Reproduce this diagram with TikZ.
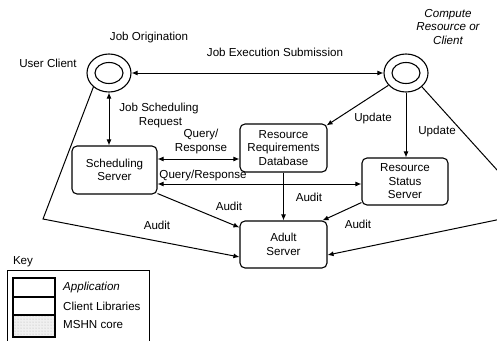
\documentclass[tikz,border=0pt]{standalone}
\usepackage{fontspec}
\setmainfont{Liberation Sans}
\usetikzlibrary{arrows.meta,shapes.geometric,patterns}
\begin{document}
\begin{tikzpicture}[x=1pt,y=-1pt,
  lbl/.style={font=\fontsize{11.6}{13.5}\selectfont, align=center, inner sep=0pt},
  srv/.style={draw, rounded corners=5pt, line width=1.1pt, minimum width=87pt, minimum height=48pt, align=center, inner sep=0pt, font=\fontsize{11.6}{13.5}\selectfont},
  ring/.style={draw, ellipse, line width=1.1pt, minimum width=44pt, minimum height=38pt, inner sep=0pt},
  tip/.style={-{Latex[length=6pt,width=5pt]}},
  arr/.style={line width=1pt, tip},
  darr/.style={line width=1pt, {Latex[length=6pt,width=5pt]}-{Latex[length=6pt,width=5pt]}},
  keybox/.style={draw, line width=1.2pt}]
\clip (0,0) rectangle (497,340);
\fill[white] (0,0) rectangle (497,340);

% clients
\node[ring] (uc) at (109,73) {};
\draw[line width=1.1pt] (uc.center) ellipse (14 and 10.5);
\node[ring] (cr) at (406,73) {};
\draw[line width=1.1pt] (cr.center) ellipse (14 and 10.5);

% servers
\node[srv, minimum width=85pt] (ss) at (114.5,170) {Scheduling\\Server};
\node[srv] (rrd) at (283.5,148) {Resource\\Requirements\\Database};
\node[srv, minimum width=86pt, minimum height=47pt] (rss) at (405,181.5) {Resource\\Status\\Server};
\node[srv, minimum height=47pt] (as) at (283.5,244.5) {Adult\\Server};

% labels
\node[lbl] (l1) at (149,38) {Job Origination};
\node[lbl] (l2) at (48,63) {User Client};
\node[lbl, font=\fontsize{11.6}{13.5}\selectfont\itshape] (l3) at (448,27) {Compute\\Resource or\\Client};
\node[lbl] (l4) at (275,52) {Job Execution Submission};
\node[lbl] (l5) at (159,115.5) {Job Scheduling\\\hspace*{3pt}Request};
\node[lbl] (l6) at (201,141.5) {Query/\\Response};
\node[lbl] (l7) at (203,175) {Query/Response};
\node[lbl] (l8) at (309,197) {Audit};
\node[lbl] (l9) at (229,206) {Audit};
\node[lbl] (l10) at (358,224) {Audit};
\node[lbl] (l11) at (157,225) {Audit};
\node[lbl] (l12) at (373,118) {Update};
\node[lbl] (l13) at (437,131) {Update};

% corner points
\coordinate (lc) at (43,219);
\coordinate (rc) at (535,212);

% connectors
\draw[darr] (uc.east) -- (cr.west);
\draw[darr] (uc.south) -- (uc.south |- ss.north);
\draw[darr] ([yshift=11pt]ss.east) -- ([yshift=11pt]ss.east -| rrd.west);
\draw[darr] ([yshift=-14pt]ss.east) -- ([yshift=-14pt]ss.east -| rss.west);
\draw[arr] (rrd.south) -- (as.north);
\draw[arr] ([yshift=1pt]ss.south east) -- ([yshift=-7pt]as.north west);
\draw[arr] ([yshift=3pt]rss.south west) -- ([xshift=-5pt]as.north east);
\draw[arr] (uc.222) -- (lc) -- ([yshift=-12.5pt]as.west);
\draw[arr] (cr.-41) -- (rc) -- ([yshift=-10.5pt]as.east);
\draw[arr] (cr.215) -- ([xshift=-1pt,yshift=-2pt]rrd.north east);
\draw[arr] (cr.south) -- (cr.south |- rss.north);

% key
\node[lbl, anchor=center] (key) at (23,262) {Key};
\draw[line width=1pt] (7,270) rectangle (149,350);
\path[fill=gray!12] (13,315) rectangle (55,337);
\path[pattern=dots, pattern color=gray!60] (13,315) rectangle (55,337);
\draw[keybox] (13,278) rectangle (55,297);
\draw[keybox] (13,297) rectangle (55,315);
\draw[keybox] (13,315) rectangle (55,337);
\node[lbl, anchor=west, font=\fontsize{11.6}{13.5}\selectfont\itshape] (k1) at (63,287) {Application};
\node[lbl, anchor=west] (k2) at (63,306) {Client Libraries};
\node[lbl, anchor=west] (k3) at (63,325) {MSHN core};
\end{tikzpicture}
\end{document}
